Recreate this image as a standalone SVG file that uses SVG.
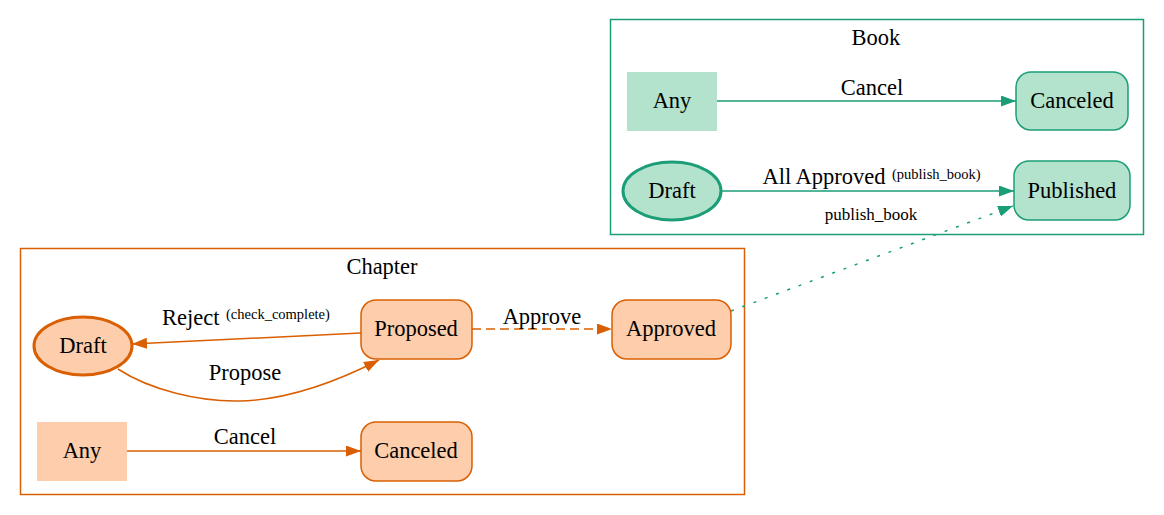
<svg xmlns="http://www.w3.org/2000/svg" width="1164" height="515" viewBox="0 0 1164 515" font-family="'Liberation Serif', 'Times New Roman', Times, serif">
<style>
text{font-family:'Liberation Serif','Times New Roman',Times,serif;fill:#000}
.t{font-size:22.5px;text-anchor:middle}
.s{font-size:14.5px}
.g{fill:#b3e2cd;stroke:#1b9e77;stroke-width:1.5}
.o{fill:#fdcdac;stroke:#d95f02;stroke-width:1.5}
.gl{stroke:#1b9e77;stroke-width:1.5;fill:none}
.ol{stroke:#d95f02;stroke-width:1.5;fill:none}
</style>
<defs>
<marker id="ag" markerUnits="userSpaceOnUse" markerWidth="16" markerHeight="12" refX="15" refY="5.5" orient="auto"><path d="M0,0 L15,5.5 L0,11 z" fill="#1b9e77"/></marker>
<marker id="ao" markerUnits="userSpaceOnUse" markerWidth="16" markerHeight="12" refX="15" refY="5.5" orient="auto"><path d="M0,0 L15,5.5 L0,11 z" fill="#d95f02"/></marker>
</defs>
<rect width="1164" height="515" fill="#fff"/>
<g id="cluster_book">
<rect x="610.5" y="19.5" width="533" height="215" fill="none" stroke="#1b9e77" stroke-width="1.5"/>
<text class="t" x="876" y="45">Book</text>
</g>
<g id="cluster_chapter">
<rect x="20.5" y="248.5" width="724" height="246" fill="none" stroke="#d95f02" stroke-width="1.5"/>
<text class="t" x="382" y="274">Chapter</text>
</g>
<g id="connectors">
<line class="gl" x1="717" y1="101" x2="1016" y2="101" marker-end="url(#ag)"/>
<text class="t" x="872" y="95">Cancel</text>
<line class="gl" x1="721" y1="191" x2="1014" y2="191" marker-end="url(#ag)"/>
<text class="t" x="824" y="184">All Approved</text>
<text class="s" x="892" y="179">(publish_book)</text>
<line class="gl" x1="731" y1="311" x2="1013" y2="206" stroke-dasharray="3,9" marker-end="url(#ag)"/>
<text x="871" y="220" style="font-size:17px;text-anchor:middle">publish_book</text>
<line class="ol" x1="361" y1="333" x2="132" y2="344" marker-end="url(#ao)"/>
<text x="162" y="325" style="font-size:22.5px">Reject</text>
<text class="s" x="226" y="319">(check_complete)</text>
<path class="ol" d="M118,369 C150,390 200,402 240,401 C282,400 330,385 379,360" marker-end="url(#ao)"/>
<text class="t" x="245" y="380">Propose</text>
<line class="ol" x1="472" y1="329" x2="612" y2="329" stroke-dasharray="9,5" marker-end="url(#ao)"/>
<text class="t" x="542" y="324">Approve</text>
<line class="ol" x1="127" y1="451" x2="361" y2="451" marker-end="url(#ao)"/>
<text class="t" x="245" y="444">Cancel</text>
</g>
<g id="book_any"><rect x="627" y="72" width="90" height="59" fill="#b3e2cd"/><text class="t" x="672" y="108">Any</text></g>
<g id="book_canceled"><rect class="g" x="1016" y="72" width="112" height="58" rx="15"/><text class="t" x="1072" y="108">Canceled</text></g>
<g id="book_draft"><ellipse class="g" cx="672" cy="191" rx="49" ry="29" style="stroke-width:3"/><text class="t" x="672" y="198">Draft</text></g>
<g id="book_published"><rect class="g" x="1014" y="161" width="116" height="59" rx="15"/><text class="t" x="1072" y="198">Published</text></g>
<g id="chapter_draft"><ellipse class="o" cx="83" cy="346" rx="49" ry="29" style="stroke-width:3"/><text class="t" x="83" y="353">Draft</text></g>
<g id="chapter_proposed"><rect class="o" x="361" y="300" width="111" height="59" rx="15"/><text class="t" x="416" y="336">Proposed</text></g>
<g id="chapter_approved"><rect class="o" x="612" y="300" width="119" height="59" rx="15"/><text class="t" x="671" y="336">Approved</text></g>
<g id="chapter_any"><rect x="37" y="422" width="90" height="59" fill="#fdcdac"/><text class="t" x="82" y="458">Any</text></g>
<g id="chapter_canceled"><rect class="o" x="361" y="422" width="111" height="59" rx="15"/><text class="t" x="416" y="458">Canceled</text></g>
</svg>
